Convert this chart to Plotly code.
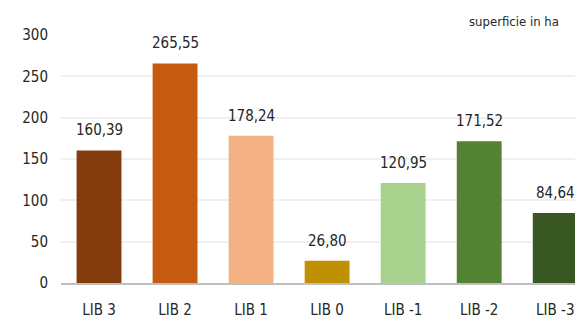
import plotly.graph_objects as go

categories = ["LIB 3", "LIB 2", "LIB 1", "LIB 0", "LIB -1", "LIB -2", "LIB -3"]
values = [160.39, 265.55, 178.24, 26.80, 120.95, 171.52, 84.64]
colors = ["#843C0C", "#C55A11", "#F4B183", "#BF9000", "#A9D18E", "#548235", "#385723"]
y_ticks = [0, 50, 100, 150, 200, 250, 300]

font_family = "DejaVu Sans Condensed, Liberation Sans Narrow, Arial Narrow, sans-serif"

labels = [f"{v:.2f}".replace(".", ",") for v in values]

fig = go.Figure(
    go.Bar(
        x=categories,
        y=values,
        marker=dict(color=colors, line=dict(width=0)),
        width=0.59,
        hoverinfo="skip",
    )
)

# value labels placed above each bar
annotations = [
    dict(
        x=c, y=v, text=t,
        xref="x", yref="y",
        yanchor="bottom", yshift=9,
        showarrow=False,
        font=dict(size=15, color="#262626", family=font_family),
    )
    for c, v, t in zip(categories, values, labels)
]
annotations.append(
    dict(
        text="superficie in ha",
        xref="paper", yref="paper",
        x=0.972, y=1.0, yshift=4,
        xanchor="right", yanchor="bottom",
        showarrow=False,
        font=dict(size=13, color="#262626", family=font_family),
    )
)

fig.update_layout(
    width=575,
    height=328,
    margin=dict(l=61, r=0, t=35, b=45),
    plot_bgcolor="white",
    paper_bgcolor="white",
    showlegend=False,
    font=dict(family=font_family, color="#262626", size=15),
    annotations=annotations,
)

fig.update_xaxes(
    range=[-0.5, 6.26],
    showgrid=False,
    showline=True,
    linecolor="#BFBFBF",
    linewidth=2,
    ticks="",
    ticklabelstandoff=12,
    tickfont=dict(size=15, color="#262626"),
)

fig.update_yaxes(
    range=[0, 300],
    tickvals=y_ticks,
    showgrid=True,
    gridcolor="#F0F0F0",
    gridwidth=1.5,
    zeroline=False,
    showline=False,
    ticks="",
    ticklabelstandoff=12,
    tickfont=dict(size=15, color="#262626"),
)

fig.write_html("out.html")
